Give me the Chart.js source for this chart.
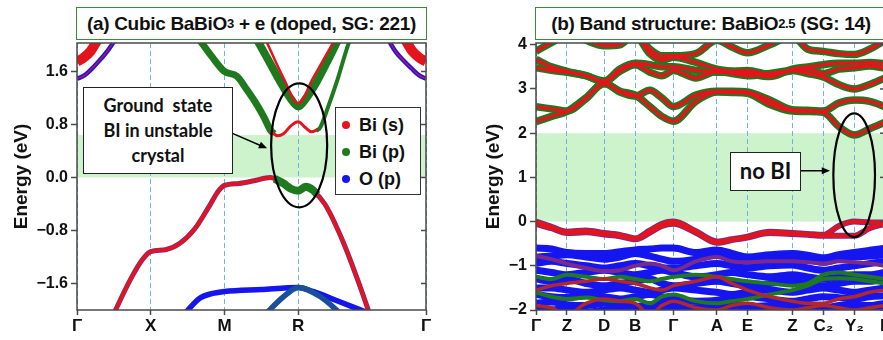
<!DOCTYPE html>
<html>
<head>
<meta charset="utf-8">
<script src="https://cdn.jsdelivr.net/npm/chart.js@4.4.0/dist/chart.umd.min.js"></script>
<style>
  body { margin: 0; width: 883px; height: 340px; overflow: hidden; background: #fff; position: relative;
         font-family: 'Liberation Sans', Arial, sans-serif; }
  canvas { position: absolute; top: 0; }
  #cA { left: 0; }
  #cB { left: 440px; }
  .ttl { position: absolute; box-sizing: border-box; border: 1.5px solid #3a8a3a; background: #fff;
         font-weight: bold; font-size: 19px; letter-spacing: -0.3px; color: #111;
         display: flex; align-items: center; justify-content: center; white-space: nowrap; }
  .ttl sub { font-size: 13px; vertical-align: -5px; line-height: 0; }
  .note { position: absolute; box-sizing: border-box; border: 1.5px solid #222; background: #fff;
          font-family: Lato, 'Open Sans', sans-serif; font-weight: bold; color: #111; text-align: center; }
  #legA { position: absolute; box-sizing: border-box; border: 1.5px solid #333; background: #fff;
          left: 335px; top: 107px; width: 86px; height: 88px; padding-top: 4px; }
  #legA div { height: 27px; line-height: 27px; font-size: 18px; font-weight: bold; color: #111; white-space: nowrap; }
  #legA span { display: inline-block; width: 8px; height: 8px; border-radius: 50%; margin: 0 9px 2px 6px; vertical-align: middle; }
</style>
</head>
<body>
<canvas id="cA" width="440" height="340"></canvas>
<canvas id="cB" width="460" height="340"></canvas>
<div class="ttl" style="left:76px;top:7px;width:351px;height:33px">(a) Cubic BaBiO<sub>3</sub>&nbsp;+ e (doped, SG: 221)</div>
<div class="ttl" style="left:535px;top:7px;width:352px;height:33px">(b) Band structure: BaBiO<sub>2.5</sub>&nbsp;(SG: 14)</div>
<div class="note" style="left:83px;top:87px;width:150px;height:87px;font-size:18px;line-height:25px;padding-top:5px">Ground&nbsp; state<br>BI in unstable<br>crystal</div>
<div class="note" style="left:730px;top:152px;width:71px;height:39px;font-size:22px;line-height:36px">no BI</div>
<div id="legA"></div>
<script>
// ---- panel (a): cubic BaBiO3 + e ----
const aTickPos = [0, 0.5, 1.0, 1.5, 2.366];
const aTickLbl = ['Γ', 'X', 'M', 'R', 'Γ'];
const aYTicks = [-1.6, -0.8, 0, 0.8, 1.6];

const aRedLoX = [0.24, 0.36, 0.44, 0.5, 0.6, 0.7, 0.8, 0.9, 0.96, 1.0, 1.1, 1.2, 1.31, 1.38, 1.5, 1.55, 1.6, 1.68, 1.8, 1.92, 1.99];
const aRedLoE = [-2.1, -1.55, -1.25, -1.12, -1.09, -0.99, -0.77, -0.42, -0.2, -0.12, -0.09, -0.05, 0.0, -0.06, -0.2, -0.14, -0.2, -0.4, -0.95, -1.65, -2.1];
const aGrnLoX = [1.34, 1.4, 1.45, 1.5, 1.55, 1.6, 1.63];
const aGrnLoE = [-0.02, -0.09, -0.17, -0.2, -0.14, -0.19, -0.26];
const aGrnLX = [0.83, 0.916, 1.0, 1.083, 1.153, 1.219, 1.27, 1.31, 1.335];
const aGrnLE = [2.08, 1.82, 1.6, 1.53, 1.32, 1.1, 0.9, 0.72, 0.66];
const aRedWX = [1.31, 1.36, 1.40, 1.45, 1.5, 1.55, 1.59, 1.63];
const aRedWE = [0.7, 0.63, 0.66, 0.78, 0.84, 0.75, 0.69, 0.72];
const aGrnRX = [1.62, 1.65, 1.70, 1.762, 1.83, 1.85];
const aGrnRE = [0.7, 0.76, 1.05, 1.45, 1.95, 2.08];
const aGrnVX = [1.22, 1.31, 1.377, 1.445, 1.5, 1.555, 1.626, 1.69, 1.77];
const aGrnVE = [2.08, 1.72, 1.45, 1.2, 1.07, 1.2, 1.45, 1.72, 2.08];
const aRedVX = [1.285, 1.4, 1.5, 1.6, 1.74];
const aRedVE = [2.05, 1.5, 1.12, 1.5, 2.05];
const aRedGLX = [0, 0.04, 0.09, 0.14];
const aRedGLE = [1.75, 1.8, 1.9, 2.08];
const aBluGLX = [0, 0.05, 0.1, 0.15, 0.21, 0.26];
const aBluGLE = [1.49, 1.54, 1.64, 1.76, 1.92, 2.08];
const aRedGRX = [2.225, 2.276, 2.326, 2.366];
const aRedGRE = [2.08, 1.9, 1.8, 1.75];
const aBluGRX = [2.11, 2.16, 2.22, 2.266, 2.32, 2.366];
const aBluGRE = [2.08, 1.9, 1.75, 1.65, 1.54, 1.49];
const aBlu1X = [0.72, 0.834, 0.92, 1.0, 1.25, 1.5, 1.6, 1.75, 1.98];
const aBlu1E = [-2.08, -1.82, -1.75, -1.72, -1.69, -1.66, -1.72, -1.85, -2.05];
const aBlu2X = [1.27, 1.4, 1.5, 1.65, 1.8];
const aBlu2E = [-2.08, -1.8, -1.66, -1.8, -2.08];

const legLabels = ['Bi (s)', 'Bi (p)', 'O (p)'];

// ---- panel (b): BaBiO2.5 ----
const bTickPos = [0, 0.31, 0.683, 0.993, 1.376, 1.81, 2.116, 2.566, 2.876, 3.186, 3.493];
const bTickLbl = ['Γ', 'Z', 'D', 'B', 'Γ', 'A', 'E', 'Z', 'C₂', 'Y₂', 'Γ'];
const bYTicks = [-2, -1, 0, 1, 2, 3, 4];
const bK = [0, 0.155, 0.31, 0.5, 0.683, 0.84, 0.993, 1.14, 1.26, 1.376, 1.6, 1.81, 1.96, 2.116, 2.34, 2.566, 2.72, 2.876, 3.03, 3.186, 3.34, 3.493];

const bC1 = [2.26, 2.38, 2.49, 2.8, 3.12, 2.95, 2.86, 2.6, 2.38, 2.27, 2.72, 2.93, 2.92, 2.9, 2.65, 2.5, 2.49, 2.47, 2.15, 1.96, 2.1, 2.25];
const bC2 = [2.6, 2.55, 2.5, 2.78, 3.14, 2.93, 2.84, 2.97, 2.8, 2.6, 2.86, 2.95, 2.95, 2.93, 2.75, 2.53, 2.52, 2.5, 2.68, 2.75, 2.72, 2.6];
const bC3 = [3.48, 3.42, 3.38, 3.3, 3.16, 3.4, 3.55, 3.38, 3.3, 3.42, 3.25, 3.4, 3.35, 3.3, 3.35, 3.42, 3.35, 3.27, 3.1, 3.0, 3.1, 3.25];
const bC4 = [3.67, 3.5, 3.4, 3.3, 3.18, 3.45, 3.58, 3.55, 3.5, 3.5, 3.42, 3.38, 3.4, 3.42, 3.33, 3.42, 3.45, 3.35, 3.45, 3.48, 3.52, 3.47];
const bC5 = [3.85, 4.05, 4.2, 4.15, 4.0, 4.1, 4.2, 3.8, 3.65, 3.72, 3.6, 3.45, 3.4, 3.35, 3.28, 3.45, 3.5, 3.55, 3.58, 3.58, 3.6, 3.57];
const bC6 = [4.2, 4.3, 4.3, 4.1, 3.98, 4.0, 4.25, 3.9, 3.75, 3.75, 3.8, 4.1, 3.95, 3.82, 4.0, 4.2, 3.9, 3.85, 3.8, 3.78, 3.9, 4.1];

const bV1 = [0.0, -0.12, -0.23, -0.2, -0.26, -0.3, -0.38, -0.2, -0.05, 0.0, -0.22, -0.45, -0.4, -0.34, -0.23, -0.26, -0.28, -0.3, -0.1, 0.0, -0.02, -0.02];
const bV2 = [-0.05, -0.15, -0.26, -0.24, -0.29, -0.33, -0.4, -0.25, -0.1, -0.05, -0.25, -0.48, -0.42, -0.36, -0.26, -0.28, -0.3, -0.32, -0.32, -0.32, -0.15, -0.05];

const bB1 = [-0.6, -0.62, -0.7, -0.72, -0.72, -0.68, -0.64, -0.62, -0.6, -0.6, -0.7, -0.64, -0.72, -0.8, -0.75, -0.72, -0.76, -0.82, -0.75, -0.7, -0.65, -0.6];
const bB2 = [-0.8, -0.78, -0.75, -0.8, -0.85, -0.8, -0.72, -0.78, -0.85, -0.9, -0.85, -0.75, -0.85, -0.9, -0.85, -0.8, -0.85, -0.92, -0.85, -0.8, -0.78, -0.75];
const bB3 = [-0.95, -0.9, -0.95, -1.0, -1.05, -1.0, -0.95, -1.0, -1.05, -1.05, -1.0, -0.95, -1.0, -1.05, -1.0, -0.98, -1.05, -1.1, -1.05, -1.0, -0.95, -0.9];
const bB4 = [-1.1, -1.15, -1.2, -1.15, -1.1, -1.15, -1.2, -1.15, -1.1, -1.15, -1.25, -1.2, -1.15, -1.2, -1.25, -1.2, -1.25, -1.3, -1.25, -1.2, -1.2, -1.15];
const bB5 = [-1.3, -1.35, -1.3, -1.4, -1.45, -1.4, -1.35, -1.3, -1.4, -1.45, -1.4, -1.35, -1.4, -1.45, -1.4, -1.35, -1.4, -1.45, -1.4, -1.35, -1.35, -1.3];
const bB6 = [-1.5, -1.5, -1.55, -1.6, -1.55, -1.5, -1.55, -1.6, -1.55, -1.5, -1.55, -1.6, -1.65, -1.6, -1.55, -1.6, -1.55, -1.5, -1.55, -1.6, -1.55, -1.5];
const bB7 = [-1.65, -1.7, -1.72, -1.68, -1.7, -1.75, -1.7, -1.65, -1.7, -1.75, -1.8, -1.78, -1.72, -1.7, -1.75, -1.8, -1.75, -1.7, -1.72, -1.75, -1.7, -1.68];
const bB8 = [-1.85, -1.82, -1.88, -1.9, -1.85, -1.88, -1.92, -1.88, -1.85, -1.9, -1.95, -1.9, -1.88, -1.92, -1.9, -1.88, -1.92, -1.95, -1.9, -1.88, -1.9, -1.85];
const bB9 = [-1.95, -2.0, -1.97, -2.05, -2.0, -1.96, -2.05, -2.0, -1.97, -2.02, -2.05, -1.98, -2.03, -2.05, -2.0, -1.98, -2.02, -2.05, -2.0, -1.97, -2.02, -2.0];
const bR1 = [-0.78, -0.85, -0.95, -1.05, -1.12, -1.1, -1.0, -0.95, -1.0, -1.1, -0.9, -0.8, -0.9, -0.92, -0.9, -0.9, -0.92, -0.95, -0.9, -0.92, -0.95, -1.0];
const bR2 = [-1.55, -1.45, -1.4, -1.35, -1.3, -1.35, -1.4, -1.5, -1.55, -1.45, -1.35, -1.25, -1.4, -1.55, -1.7, -1.8, -1.85, -1.85, -1.75, -1.7, -1.6, -1.55];
const bR3 = [-1.9, -1.95, -2.1, -1.85, -1.75, -1.8, -1.85, -2.1, -1.9, -1.8, -1.95, -2.0, -1.9, -1.85, -1.95, -2.0, -1.95, -1.9, -1.95, -2.0, -1.95, -1.9];
const bG1 = [-1.6, -1.7, -1.75, -1.72, -1.78, -1.8, -1.75, -1.85, -1.7, -1.65, -1.8, -1.85, -1.8, -1.75, -1.65, -1.55, -1.45, -1.3, -1.28, -1.3, -1.35, -1.4];
const bG2 = [-1.25, -1.3, -1.2, -1.25, -1.3, -1.25, -1.3, -1.35, -1.3, -1.25, -1.2, -1.25, -1.3, -1.35, -1.4, -1.45, -1.4, -1.2, -1.15, -1.2, -1.25, -1.3];

const RED = '#e3141b', GRN = '#1f7a1f', BLU = '#1515f0', PUR = '#7a2a8a', TEAL = '#1a4f9a';
const SHADE = 'rgba(170, 235, 170, 0.6)';
const FONT = "'Liberation Sans', Arial, sans-serif";

function band(xs, ys, color, width) {
    return {
        data: xs.map((x, i) => ({ x: x, y: ys[i] })),
        borderColor: color,
        borderWidth: width,
        pointRadius: 0,
        fill: false,
        clip: 0,
        cubicInterpolationMode: 'monotone'
    };
}

// first in list is drawn at the bottom
function stack(list) {
    list.forEach((d, i) => { d.order = list.length - i; });
    return list;
}

const minus = s => s.replace('-', '−');

const deco = {
    id: 'deco',
    beforeDraw(chart, args, o) {
        const { ctx, chartArea: a, scales: { y } } = chart;
        const top = y.getPixelForValue(o.shade[1]);
        const bot = y.getPixelForValue(o.shade[0]);
        ctx.save();
        ctx.fillStyle = SHADE;
        ctx.fillRect(a.left, top, a.right - a.left, bot - top);
        ctx.restore();
    },
    afterDraw(chart, args, o) {
        const { ctx, chartArea: a, scales: { x, y } } = chart;
        ctx.save();
        // frame + inward ticks on the right
        ctx.strokeStyle = '#4a4a4a';
        ctx.lineWidth = 1.5;
        ctx.strokeRect(a.left, a.top, a.right - a.left, a.bottom - a.top);
        y.ticks.forEach(t => {
            const py = y.getPixelForValue(t.value);
            ctx.beginPath();
            ctx.moveTo(a.right - 5, py);
            ctx.lineTo(a.right, py);
            ctx.stroke();
        });
        // ellipse
        const e = o.ellipse;
        const x0 = x.getPixelForValue(e.x0), x1 = x.getPixelForValue(e.x1);
        const y0 = y.getPixelForValue(e.y0), y1 = y.getPixelForValue(e.y1);
        ctx.strokeStyle = '#000';
        ctx.lineWidth = 2.2;
        ctx.beginPath();
        ctx.ellipse((x0 + x1) / 2, (y0 + y1) / 2, (x1 - x0) / 2, Math.abs(y0 - y1) / 2, 0, 0, Math.PI * 2);
        ctx.stroke();
        // arrow
        const r = o.arrow;
        const ax0 = x.getPixelForValue(r.x0), ay0 = y.getPixelForValue(r.y0);
        const ax1 = x.getPixelForValue(r.x1), ay1 = y.getPixelForValue(r.y1);
        const ang = Math.atan2(ay1 - ay0, ax1 - ax0);
        ctx.lineWidth = 1.5;
        ctx.beginPath();
        ctx.moveTo(ax0, ay0);
        ctx.lineTo(ax1 - 6 * Math.cos(ang), ay1 - 6 * Math.sin(ang));
        ctx.stroke();
        ctx.fillStyle = '#000';
        ctx.beginPath();
        ctx.moveTo(ax1, ay1);
        ctx.lineTo(ax1 - 9 * Math.cos(ang - 0.4), ay1 - 9 * Math.sin(ang - 0.4));
        ctx.lineTo(ax1 - 9 * Math.cos(ang + 0.4), ay1 - 9 * Math.sin(ang + 0.4));
        ctx.closePath();
        ctx.fill();
        ctx.restore();
    }
};

function makeChart(id, cfg) {
    return new Chart(document.getElementById(id), {
        type: 'line',
        data: { datasets: cfg.datasets },
        plugins: [deco],
        options: {
            responsive: false,
            animation: false,
            devicePixelRatio: 1,
            layout: { padding: { top: 43, right: cfg.padRight, left: 0, bottom: 0 } },
            plugins: {
                legend: { display: false },
                tooltip: { enabled: false },
                deco: cfg.deco
            },
            scales: {
                x: {
                    type: 'linear',
                    min: 0,
                    max: cfg.xMax,
                    afterBuildTicks: s => { s.ticks = cfg.xTicks.map(v => ({ value: v })); },
                    afterFit: s => { s.height = 30; },
                    ticks: {
                        autoSkip: false, maxRotation: 0, padding: 1, color: '#111',
                        font: { family: FONT, size: 17, weight: 'bold' },
                        callback: (v, i) => cfg.xLabels[i]
                    },
                    grid: {
                        color: '#6cb4df', lineWidth: 1, tickLength: 5,
                        tickColor: '#4a4a4a', tickWidth: 1.5
                    },
                    border: { display: false, dash: [5, 3] }
                },
                y: {
                    type: 'linear',
                    min: cfg.yMin,
                    max: cfg.yMax,
                    afterBuildTicks: s => { s.ticks = cfg.yTicks.map(v => ({ value: v })); },
                    afterFit: s => { s.width = cfg.yWidth; },
                    ticks: {
                        padding: 3, color: '#111',
                        font: { family: FONT, size: 16, weight: 'bold' },
                        callback: cfg.yFormat
                    },
                    grid: { drawOnChartArea: false, tickLength: 6, tickColor: '#4a4a4a', tickWidth: 1.5 },
                    border: { display: false },
                    title: {
                        display: true, text: 'Energy (eV)', color: '#111',
                        font: { family: FONT, size: 19, weight: 'bold' },
                        padding: { top: cfg.titlePad, bottom: 0 }
                    }
                }
            }
        }
    });
}

makeChart('cA', {
    xMax: 2.366, xTicks: aTickPos, xLabels: aTickLbl,
    yMin: -2.0, yMax: 2.03, yTicks: aYTicks, yWidth: 77, padRight: 14, titlePad: 10,
    yFormat: v => minus(v.toFixed(1)),
    deco: {
        shade: [0, 0.64],
        ellipse: { x0: 1.316, x1: 1.696, y0: 1.42, y1: -0.45 },
        arrow: { x0: 1.05, y0: 0.67, x1: 1.289, y1: 0.44 }
    },
    datasets: stack([
        band(aBlu1X, aBlu1E, BLU, 5.5),
        band(aBlu2X, aBlu2E, TEAL, 5.5),
        band(aBluGLX, aBluGLE, BLU, 4.5),
        band(aBluGLX, aBluGLE, RED, 1.2),
        band(aBluGRX, aBluGRE, BLU, 4.5),
        band(aBluGRX, aBluGRE, RED, 1.2),
        band(aRedGLX, aRedGLE, RED, 10),
        band(aRedGRX, aRedGRE, RED, 10),
        band(aRedLoX, aRedLoE, PUR, 5),
        band(aRedLoX, aRedLoE, RED, 3.5),
        band(aGrnLoX, aGrnLoE, GRN, 8),
        band(aGrnLX, aGrnLE, GRN, 7),
        band(aGrnRX, aGrnRE, GRN, 4),
        band(aGrnVX, aGrnVE, GRN, 8),
        band(aRedVX, aRedVE, RED, 2.5),
        band(aRedWX, aRedWE, RED, 3)
    ])
});

const bBlue = [bB1, bB2, bB3, bB4, bB5, bB6, bB7, bB8, bB9];
const bCond = [bC1, bC2, bC3, bC4, bC5, bC6];

makeChart('cB', {
    xMax: 3.493, xTicks: bTickPos, xLabels: bTickLbl,
    yMin: -2.0, yMax: 4.04, yTicks: bYTicks, yWidth: 96, padRight: 15, titlePad: 42,
    yFormat: v => minus(String(v)),
    deco: {
        shade: [0, 2],
        ellipse: { x0: 2.976, x1: 3.393, y0: 2.45, y1: -0.35 },
        arrow: { x0: 2.643, y0: 1.15, x1: 2.943, y1: 1.15 }
    },
    datasets: stack([
        ...bBlue.map(e => band(bK, e, BLU, 7)),
        band(bK, bG1, GRN, 4),
        band(bK, bG2, GRN, 4),
        band(bK, bR1, PUR, 4),
        band(bK, bR2, '#b0282a', 3.5),
        band(bK, bR3, '#b0282a', 3.5),
        band(bK, bV2, PUR, 6),
        band(bK, bV1, PUR, 6),
        band(bK, bV2, RED, 4),
        band(bK, bV1, RED, 4),
        ...bCond.map(e => band(bK, e, GRN, 7.5)),
        ...bCond.map(e => band(bK, e, RED, 3.5))
    ])
});

// legend for panel (a)
const legColors = [RED, GRN, BLU];
document.getElementById('legA').innerHTML = legLabels
    .map((t, i) => `<div><span style="background:${legColors[i]}"></span>${t}</div>`)
    .join('');
</script>
</body>
</html>
